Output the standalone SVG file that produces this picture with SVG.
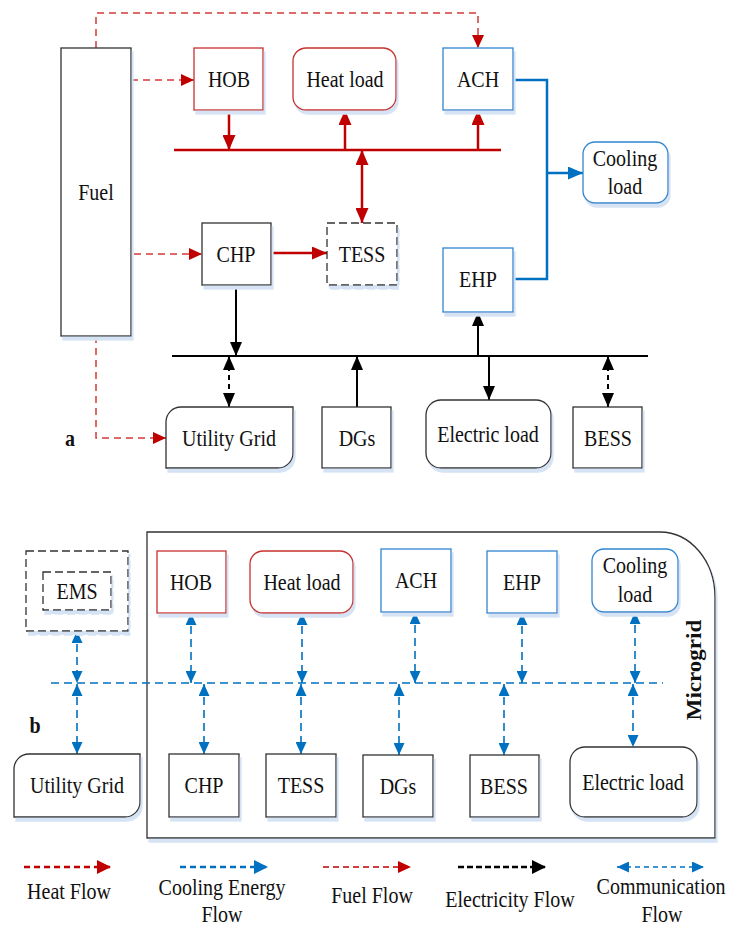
<svg xmlns="http://www.w3.org/2000/svg" width="730" height="926" viewBox="0 0 730 926">
  <style>
    .t { font-family: "Liberation Serif", "Times New Roman", serif; font-size: 23px; text-anchor: middle; fill: #111; }
    .bold { font-weight: bold; }
    .box { fill: #fff; stroke: #333; stroke-width: 1.3; filter: url(#sh); }
    .red { stroke: #c8302f; }
    .blue { stroke: #2e86d0; }
    .dash { stroke-dasharray: 8 4; }
    .heat { fill: none; stroke: #c00000; stroke-width: 2.5; }
    .fuel { fill: none; stroke: #d43a3a; stroke-width: 1.5; stroke-dasharray: 7 5; }
    .cool { fill: none; stroke: #0070c0; stroke-width: 2.5; }
    .elec { fill: none; stroke: #000; stroke-width: 2; }
    .comm { fill: none; stroke: #0070c0; stroke-width: 1.6; stroke-dasharray: 8 5; }
  </style>
  <defs>
    <filter id="sh" x="-10%" y="-10%" width="130%" height="130%">
      <feDropShadow dx="2" dy="4" stdDeviation="0" flood-color="#d5e3f4" flood-opacity="1"/>
    </filter>
    <marker id="aRed" viewBox="0 0 15 13" refX="15" refY="6.5" markerWidth="15" markerHeight="13" markerUnits="userSpaceOnUse" orient="auto-start-reverse">
      <path d="M0,0 L15,6.5 L0,13 Z" fill="#c00000"/>
    </marker>
    <marker id="aFuel" viewBox="0 0 13 12" refX="13" refY="6" markerWidth="13" markerHeight="12" markerUnits="userSpaceOnUse" orient="auto-start-reverse">
      <path d="M0,0 L13,6 L0,12 Z" fill="#c00000"/>
    </marker>
    <marker id="aBlue" viewBox="0 0 15 13" refX="15" refY="6.5" markerWidth="15" markerHeight="13" markerUnits="userSpaceOnUse" orient="auto-start-reverse">
      <path d="M0,0 L15,6.5 L0,13 Z" fill="#0070c0"/>
    </marker>
    <marker id="aBlack" viewBox="0 0 14 12" refX="14" refY="6" markerWidth="14" markerHeight="12" markerUnits="userSpaceOnUse" orient="auto-start-reverse">
      <path d="M0,0 L14,6 L0,12 Z" fill="#000"/>
    </marker>
    <marker id="aComm" viewBox="0 0 12 11" refX="12" refY="5.5" markerWidth="12" markerHeight="11" markerUnits="userSpaceOnUse" orient="auto-start-reverse">
      <path d="M0,0 L12,5.5 L0,11 Z" fill="#0070c0"/>
    </marker>
    <marker id="aLeg" viewBox="0 0 14 14" refX="14" refY="7" markerWidth="14" markerHeight="14" markerUnits="userSpaceOnUse" orient="auto-start-reverse">
      <path d="M0,0 L14,7 L0,14 Z" fill="context-stroke"/>
    </marker>
  </defs>

  <!-- ===== Panel a: energy flows ===== -->
  <g id="a-connectors">
    <!-- fuel supply -->
    <path class="fuel" d="M96,48 V13 H478 V48" marker-end="url(#aFuel)"/>
    <path class="fuel" d="M131,80 H194" marker-end="url(#aFuel)"/>
    <path class="fuel" d="M134,254 H202" marker-end="url(#aFuel)"/>
    <path class="fuel" d="M96,336 V438 H166" marker-end="url(#aFuel)"/>
    <!-- heat bus -->
    <path class="heat" d="M174,150 H501" stroke-width="3"/>
    <path class="heat" d="M229,110 V150" marker-end="url(#aRed)"/>
    <path class="heat" d="M345,150 V110" marker-end="url(#aRed)"/>
    <path class="heat" d="M478,150 V110" marker-end="url(#aRed)"/>
    <path class="heat" d="M362,150 V223" marker-start="url(#aRed)" marker-end="url(#aRed)"/>
    <path class="heat" d="M271,253 H327" marker-end="url(#aRed)"/>
    <!-- cooling -->
    <path class="cool" d="M513,80 H547 V279 H513"/>
    <path class="cool" d="M547,173 H583" marker-end="url(#aBlue)"/>
    <!-- electricity bus -->
    <path class="elec" d="M172,356 H648" stroke-width="3"/>
    <path class="elec" d="M236,285 V356" marker-end="url(#aBlack)"/>
    <path class="elec" d="M229,407 V356" stroke-dasharray="5 4" marker-start="url(#aBlack)" marker-end="url(#aBlack)"/>
    <path class="elec" d="M357,407 V356" marker-end="url(#aBlack)"/>
    <path class="elec" d="M489,356 V400" marker-end="url(#aBlack)"/>
    <path class="elec" d="M478,356 V312" marker-end="url(#aBlack)"/>
    <path class="elec" d="M608,407 V356" stroke-dasharray="5 4" marker-start="url(#aBlack)" marker-end="url(#aBlack)"/>
  </g>

  <g id="a-fuel">
    <rect class="box" x="61" y="48" width="70" height="288"/>
    <text class="t" transform="translate(96,200) scale(0.87,1)">Fuel</text>
  </g>
  <g id="a-hob">
    <rect class="box red" x="194" y="48" width="69" height="62"/>
    <text class="t" transform="translate(229,87) scale(0.87,1)">HOB</text>
  </g>
  <g id="a-heatload">
    <rect class="box red" x="293" y="48" width="103" height="62" rx="13"/>
    <text class="t" transform="translate(345,87) scale(0.87,1)">Heat load</text>
  </g>
  <g id="a-ach">
    <rect class="box blue" x="443" y="48" width="70" height="62"/>
    <text class="t" transform="translate(478,87) scale(0.87,1)">ACH</text>
  </g>
  <g id="a-coolingload">
    <rect class="box blue" x="583" y="142" width="85" height="61" rx="12"/>
    <text class="t" transform="translate(625,166) scale(0.87,1)">Cooling</text>
    <text class="t" transform="translate(625,194) scale(0.87,1)">load</text>
  </g>
  <g id="a-chp">
    <rect class="box" x="202" y="223" width="69" height="62"/>
    <text class="t" transform="translate(236,262) scale(0.87,1)">CHP</text>
  </g>
  <g id="a-tess">
    <rect class="box dash" x="327" y="223" width="70" height="62" stroke="#444"/>
    <text class="t" transform="translate(362,262) scale(0.87,1)">TESS</text>
  </g>
  <g id="a-ehp">
    <rect class="box blue" x="443" y="248" width="70" height="64"/>
    <text class="t" transform="translate(478,287) scale(0.87,1)">EHP</text>
  </g>
  <g id="a-utility">
    <path class="box" d="M181,407 H293 V453 A15,15 0 0 1 278,468 H166 V422 A15,15 0 0 1 181,407 Z"/>
    <text class="t" transform="translate(229,446) scale(0.87,1)">Utility Grid</text>
  </g>
  <g id="a-dgs">
    <rect class="box" x="322" y="407" width="69" height="61"/>
    <text class="t" transform="translate(357,446) scale(0.87,1)">DGs</text>
  </g>
  <g id="a-elecload">
    <rect class="box" x="426" y="400" width="125" height="68" rx="15"/>
    <text class="t" transform="translate(488,442) scale(0.87,1)">Electric load</text>
  </g>
  <g id="a-bess">
    <rect class="box" x="573" y="407" width="69" height="61"/>
    <text class="t" transform="translate(608,446) scale(0.87,1)">BESS</text>
  </g>
  <text class="t bold" transform="translate(70,446) scale(0.87,1)">a</text>

  <!-- ===== Panel b: communication ===== -->
  <g id="b-microgrid">
    <path class="box" d="M147,532 H660 A55,65 0 0 1 715,597 V838 H147 Z" stroke="#111" stroke-width="1.5"/>
    <text class="t bold" transform="translate(701,670) scale(0.87,1) rotate(-90)" font-size="25">Microgrid</text>
  </g>

  <g id="b-connectors">
    <path class="comm" d="M51,683 H663" stroke-width="2" stroke-dasharray="10 6"/>
    <path class="comm" d="M77,631 V683" marker-start="url(#aComm)" marker-end="url(#aComm)"/>
    <path class="comm" d="M191,613 V683" marker-start="url(#aComm)" marker-end="url(#aComm)"/>
    <path class="comm" d="M302,613 V683" marker-start="url(#aComm)" marker-end="url(#aComm)"/>
    <path class="comm" d="M415,612 V683" marker-start="url(#aComm)" marker-end="url(#aComm)"/>
    <path class="comm" d="M522,613 V683" marker-start="url(#aComm)" marker-end="url(#aComm)"/>
    <path class="comm" d="M635,612 V683" marker-start="url(#aComm)" marker-end="url(#aComm)"/>
    <path class="comm" d="M77,684 V754" marker-start="url(#aComm)" marker-end="url(#aComm)"/>
    <path class="comm" d="M204,684 V754" marker-start="url(#aComm)" marker-end="url(#aComm)"/>
    <path class="comm" d="M301,684 V754" marker-start="url(#aComm)" marker-end="url(#aComm)"/>
    <path class="comm" d="M399,684 V755" marker-start="url(#aComm)" marker-end="url(#aComm)"/>
    <path class="comm" d="M504,684 V755" marker-start="url(#aComm)" marker-end="url(#aComm)"/>
    <path class="comm" d="M633,684 V747" marker-start="url(#aComm)" marker-end="url(#aComm)"/>
  </g>

  <g id="b-ems">
    <rect class="box dash" x="26" y="551" width="102" height="80" stroke="#444"/>
    <rect class="box dash" x="43" y="572" width="68" height="38" stroke="#444" stroke-dasharray="6 4"/>
    <text class="t" transform="translate(77,599) scale(0.87,1)">EMS</text>
  </g>
  <g id="b-hob">
    <rect class="box red" x="157" y="551" width="69" height="62"/>
    <text class="t" transform="translate(191,590) scale(0.87,1)">HOB</text>
  </g>
  <g id="b-heatload">
    <rect class="box red" x="250" y="551" width="103" height="62" rx="13"/>
    <text class="t" transform="translate(302,590) scale(0.87,1)">Heat load</text>
  </g>
  <g id="b-ach">
    <rect class="box blue" x="381" y="549" width="70" height="63"/>
    <text class="t" transform="translate(416,588) scale(0.87,1)">ACH</text>
  </g>
  <g id="b-ehp">
    <rect class="box blue" x="487" y="551" width="70" height="62"/>
    <text class="t" transform="translate(522,590) scale(0.87,1)">EHP</text>
  </g>
  <g id="b-coolingload">
    <rect class="box blue" x="592" y="549" width="86" height="63" rx="12"/>
    <text class="t" transform="translate(635,573) scale(0.87,1)">Cooling</text>
    <text class="t" transform="translate(635,602) scale(0.87,1)">load</text>
  </g>
  <g id="b-utility">
    <path class="box" d="M29,754 H140 V802 A15,15 0 0 1 125,817 H14 V769 A15,15 0 0 1 29,754 Z"/>
    <text class="t" transform="translate(77,793) scale(0.87,1)">Utility Grid</text>
  </g>
  <g id="b-chp">
    <rect class="box" x="169" y="754" width="70" height="63"/>
    <text class="t" transform="translate(204,793) scale(0.87,1)">CHP</text>
  </g>
  <g id="b-tess">
    <rect class="box" x="266" y="754" width="70" height="63"/>
    <text class="t" transform="translate(301,793) scale(0.87,1)">TESS</text>
  </g>
  <g id="b-dgs">
    <rect class="box" x="363" y="755" width="70" height="62"/>
    <text class="t" transform="translate(398,794) scale(0.87,1)">DGs</text>
  </g>
  <g id="b-bess">
    <rect class="box" x="470" y="755" width="69" height="62"/>
    <text class="t" transform="translate(504,794) scale(0.87,1)">BESS</text>
  </g>
  <g id="b-elecload">
    <rect class="box" x="570" y="747" width="127" height="70" rx="15"/>
    <text class="t" transform="translate(633,790) scale(0.87,1)">Electric load</text>
  </g>
  <text class="t bold" transform="translate(35,733) scale(0.87,1)">b</text>

  <!-- ===== Legend ===== -->
  <g id="legend">
    <path d="M24,867 H111" fill="none" stroke="#c00000" stroke-width="2.5" stroke-dasharray="6 4" marker-end="url(#aLeg)"/>
    <text class="t" transform="translate(69,899) scale(0.87,1)">Heat Flow</text>
    <path d="M180,867 H268" fill="none" stroke="#0070c0" stroke-width="2.5" stroke-dasharray="6 4" marker-end="url(#aLeg)"/>
    <text class="t" transform="translate(222,895) scale(0.87,1)">Cooling Energy</text>
    <text class="t" transform="translate(222,922) scale(0.87,1)">Flow</text>
    <path d="M323,867 H411" fill="none" stroke="#c00000" stroke-width="1.3" stroke-dasharray="6 4" marker-end="url(#aFuel)"/>
    <text class="t" transform="translate(372,903) scale(0.87,1)">Fuel Flow</text>
    <path d="M458,867 H546" fill="none" stroke="#000" stroke-width="2.5" stroke-dasharray="6 3" marker-end="url(#aLeg)"/>
    <text class="t" transform="translate(510,907) scale(0.87,1)">Electricity Flow</text>
    <path d="M617,867 H704" fill="none" stroke="#0070c0" stroke-width="1.5" stroke-dasharray="5 4" marker-start="url(#aComm)" marker-end="url(#aComm)"/>
    <text class="t" transform="translate(661,894) scale(0.87,1)">Communication</text>
    <text class="t" transform="translate(662,922) scale(0.87,1)">Flow</text>
  </g>
</svg>
